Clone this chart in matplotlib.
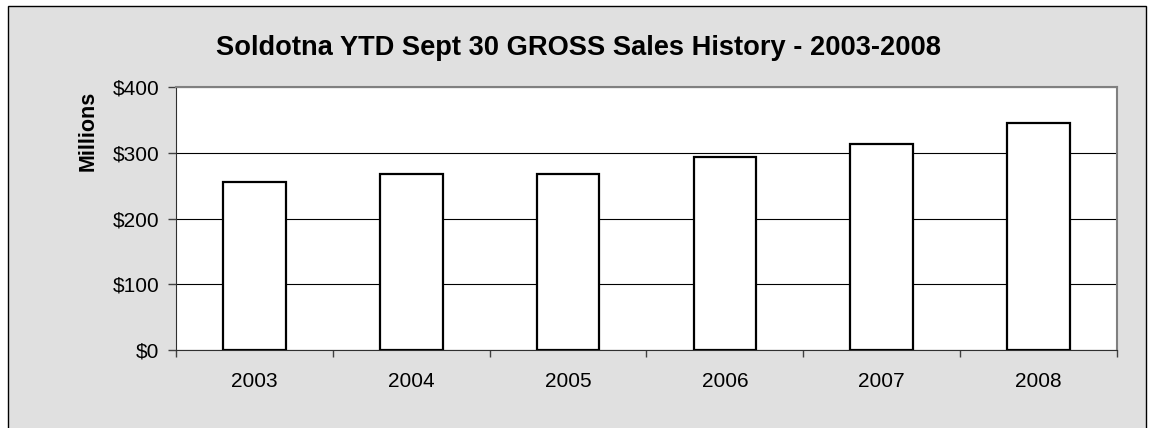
import matplotlib.pyplot as plt
from matplotlib.patches import Rectangle
from matplotlib.ticker import FixedLocator
import numpy as np

plt.rcParams['font.family'] = ['Liberation Sans', 'DejaVu Sans']

years = ['2003', '2004', '2005', '2006', '2007', '2008']
sales = [256, 267, 268, 293, 314, 346]  # millions of dollars
y_ticks = [0, 100, 200, 300, 400]

fig = plt.figure(figsize=(11.52, 4.28), dpi=100)
fig.patch.set_facecolor('white')

# grey chart panel with thin border (bottom runs off the image)
panel = Rectangle((8 / 1152, -0.05), (1146 - 8) / 1152, 1 - 6 / 428 + 0.05,
                  transform=fig.transFigure, facecolor='#e0e0e0',
                  edgecolor='black', linewidth=1, zorder=-5)
fig.patches.append(panel)

ax = fig.add_axes([176 / 1152, 1 - 350 / 428, (1117 - 176) / 1152, (350 - 87) / 428])
ax.set_zorder(2)
ax.set_facecolor('white')

x = np.arange(len(years))
ax.bar(x, sales, width=0.4, color='white', edgecolor='black', linewidth=1.6, zorder=3)

ax.set_xlim(-0.5, len(years) - 0.5)
ax.set_ylim(0, 400)
ax.set_yticks(y_ticks)
ax.set_yticklabels(['$' + str(v) for v in y_ticks])
ax.yaxis.grid(True, color='black', linewidth=0.8, zorder=1)

ax.set_xticks(x)
ax.set_xticklabels(years)
ax.xaxis.set_minor_locator(FixedLocator(np.arange(-0.5, len(years), 1.0)))
ax.tick_params(axis='x', which='major', length=0, pad=16, labelsize=15)
ax.tick_params(axis='x', which='minor', length=5, width=1, color='#404040', direction='out')
ax.tick_params(axis='y', length=6, width=1, color='#404040', pad=6, labelsize=15)

for side in ['top', 'right']:
    ax.spines[side].set_color('#808080')
    ax.spines[side].set_linewidth(1.5)
ax.spines['left'].set_color('#303030')
ax.spines['bottom'].set_color('#303030')

fig.text(88 / 1152, 1 - 131 / 428, 'Millions', rotation=90, ha='center', va='center',
         fontsize=15.5, fontweight='bold')
fig.text(579 / 1152, 1 - 48 / 428, 'Soldotna YTD Sept 30 GROSS Sales History - 2003-2008',
         ha='center', va='center', fontsize=19.6, fontweight='bold')

fig.savefig('out.png', dpi=100)
